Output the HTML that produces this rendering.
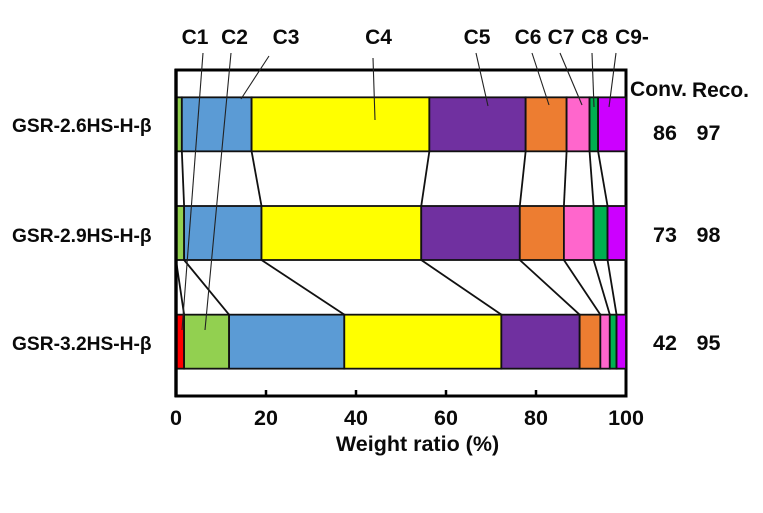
<!DOCTYPE html>
<html lang="en">
<head>
<meta charset="utf-8">
<title>Weight ratio chart</title>
<style>
html,body{margin:0;padding:0;background:#fff;}
svg{display:block;}
text{font-family:"Liberation Sans",sans-serif;font-weight:bold;fill:#0a0a0a;}
</style>
</head>
<body>
<svg id="chart" xmlns="http://www.w3.org/2000/svg" width="763" height="513" viewBox="0 0 763 513">
  <rect x="176" y="70" width="450" height="326" fill="none" stroke="#000" stroke-width="3"/>
  <g id="connectors"></g>
  <g id="bars"></g>
  <g id="frameTop"><line x1="176" y1="69" x2="176" y2="397" stroke="#000" stroke-width="3.4"/></g>
  <g id="ticks"></g>
  <g id="leaders"></g>
  <g id="labels"></g>
  <text x="417.5" y="451" font-size="21.5" text-anchor="middle">Weight ratio (%)</text>
  <text x="630" y="96" font-size="21" textLength="57" lengthAdjust="spacingAndGlyphs">Conv.</text>
  <text x="692" y="97" font-size="21" textLength="57" lengthAdjust="spacingAndGlyphs">Reco.</text>
</svg>
<script>
const categories = ['GSR-2.6HS-H-β', 'GSR-2.9HS-H-β', 'GSR-3.2HS-H-β'];
const seriesNames = ['C1', 'C2', 'C3', 'C4', 'C5', 'C6', 'C7', 'C8', 'C9-'];
const c1 = [0, 0, 1.8];
const c2 = [1.3, 1.8, 10];
const c3 = [15.5, 17.2, 25.6];
const c4 = [39.5, 35.5, 34.9];
const c5 = [21.4, 21.9, 17.4];
const c6 = [9.1, 9.8, 4.6];
const c7 = [5.1, 6.6, 2.1];
const c8 = [1.9, 3.1, 1.5];
const c9 = [6.2, 4.1, 2.1];
const conversion = [86, 73, 42];
const recovery = [97, 98, 95];
const xTicks = [0, 20, 40, 60, 80, 100];
const seriesColors = ['#ff0000', '#92d050', '#5b9bd5', '#ffff00', '#7030a0', '#ed7d31', '#ff66cc', '#00b050', '#cc00ff'];

const svgNS = 'http://www.w3.org/2000/svg';
const series = [c1, c2, c3, c4, c5, c6, c7, c8, c9];
const plotLeft = 176, plotRight = 626, plotTop = 70, plotBottom = 396;
const step = (plotBottom - plotTop) / categories.length;
const barHeight = 54;
function xScale(v) { return plotLeft + (v / 100) * (plotRight - plotLeft); }
function rowCenter(i) { return plotTop + step * (i + 0.5); }
function make(tag, attrs, parent, text) {
  const el = document.createElementNS(svgNS, tag);
  for (const k in attrs) el.setAttribute(k, attrs[k]);
  if (text !== undefined) el.textContent = text;
  parent.appendChild(el);
  return el;
}
function cumulative(row, upto) {
  let total = 0;
  for (let s = 0; s <= upto; s++) total += series[s][row];
  return total;
}

const barsG = document.getElementById('bars');
const connG = document.getElementById('connectors');
const ticksG = document.getElementById('ticks');
const leadG = document.getElementById('leaders');
const labelG = document.getElementById('labels');

// stacked segments
categories.forEach(function (cat, r) {
  series.forEach(function (vals, s) {
    const v = vals[r];
    if (v <= 0) return;
    const x0 = xScale(cumulative(r, s) - v);
    const x1 = xScale(cumulative(r, s));
    const seg = make('rect', { x: x0, y: rowCenter(r) - barHeight / 2, width: x1 - x0, height: barHeight, fill: seriesColors[s], stroke: '#111', 'stroke-width': 1.8 }, barsG);
    
    
  });
});

// connectors between neighbouring bars
for (let r = 0; r < categories.length - 1; r++) {
  for (let s = 0; s < series.length - 1; s++) {
    const ln = make('line', {
      x1: xScale(cumulative(r, s)), y1: rowCenter(r) + barHeight / 2,
      x2: xScale(cumulative(r + 1, s)), y2: rowCenter(r + 1) - barHeight / 2,
      stroke: '#111', 'stroke-width': 1.8
    }, connG);
    
    
  }
}

// x ticks and tick labels
xTicks.forEach(function (t) {
  const tick = make('line', { x1: xScale(t), y1: plotBottom, x2: xScale(t), y2: plotBottom - 6, stroke: '#000', 'stroke-width': 2.5 }, ticksG);
  
  
  const tl = make('text', { x: xScale(t), y: 425, 'font-size': 21.5, 'text-anchor': 'middle' }, labelG, String(t));
  
  
});

// row labels and printed values
const rowLabelDrop = [7.7, 9, 8.3];
const valueDrop = [15.7, 9, 8.3];
categories.forEach(function (cat, r) {
  const rl = make('text', { x: 12, y: rowCenter(r) + rowLabelDrop[r], 'font-size': 19.2 }, labelG, cat);
  
  
  const cv = make('text', { x: 665, y: rowCenter(r) + valueDrop[r], 'font-size': 21.5, 'text-anchor': 'middle' }, labelG, String(conversion[r]));
  
  
  const rv = make('text', { x: 708.5, y: rowCenter(r) + valueDrop[r], 'font-size': 21.5, 'text-anchor': 'middle' }, labelG, String(recovery[r]));
  
  
});

// component names on top with their hand-drawn leader lines
const nameCenters = [195, 234.5, 286, 378.5, 477, 528, 561, 594.5, 632];
const leaderPaths = [
  [203, 53, 182, 330], [231, 53, 205, 330], [269, 56, 241, 99], [373, 58, 375, 120],
  [476, 53, 488, 106], [532, 53, 549, 105], [560, 53, 582, 105], [592, 53, 594, 107], [616, 53, 609, 107]
];
seriesNames.forEach(function (n, s) {
  const t = make('text', { x: nameCenters[s], y: 44, 'font-size': 21, 'text-anchor': 'middle' }, labelG, n);
  
  
  const p = leaderPaths[s];
  const l = make('line', { x1: p[0], y1: p[1], x2: p[2], y2: p[3], stroke: '#222', 'stroke-width': 1.1 }, leadG);
  
  
});
</script>
</body>
</html>
